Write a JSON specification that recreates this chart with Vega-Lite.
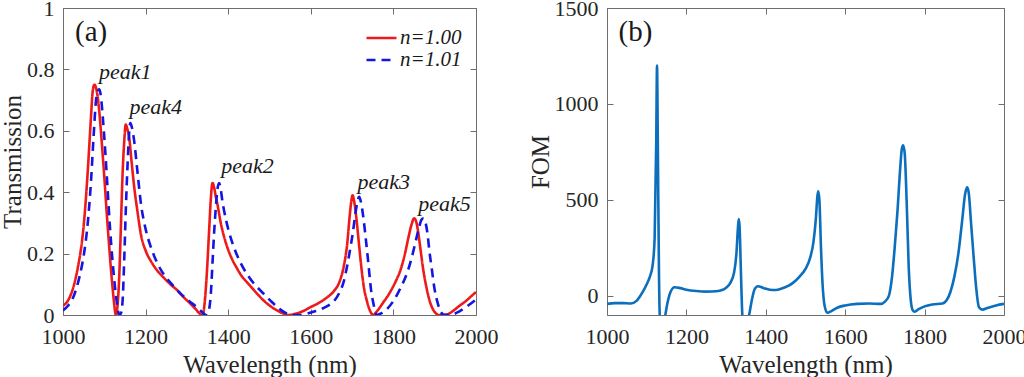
{
  "$schema": "https://vega.github.io/schema/vega-lite/v6.json",
  "padding": {"left": 0, "top": -4, "right": 2, "bottom": 0},
  "background": "white",
  "datasets": {
    "trans": [
      {"w":1000,"T":0.03,"n":"n=1.00"},{"w":1011,"T":0.045,"n":"n=1.00"},{"w":1020,"T":0.07,"n":"n=1.00"},{"w":1027,"T":0.10,"n":"n=1.00"},{"w":1036,"T":0.155,"n":"n=1.00"},{"w":1044,"T":0.22,"n":"n=1.00"},{"w":1050,"T":0.29,"n":"n=1.00"},{"w":1056,"T":0.39,"n":"n=1.00"},{"w":1060,"T":0.47,"n":"n=1.00"},{"w":1064,"T":0.56,"n":"n=1.00"},{"w":1068,"T":0.65,"n":"n=1.00"},{"w":1072,"T":0.73,"n":"n=1.00"},{"w":1076,"T":0.75,"n":"n=1.00"},{"w":1080,"T":0.74,"n":"n=1.00"},{"w":1084,"T":0.71,"n":"n=1.00"},{"w":1088,"T":0.66,"n":"n=1.00"},{"w":1094,"T":0.56,"n":"n=1.00"},{"w":1100,"T":0.45,"n":"n=1.00"},{"w":1106,"T":0.33,"n":"n=1.00"},{"w":1112,"T":0.22,"n":"n=1.00"},{"w":1116,"T":0.15,"n":"n=1.00"},{"w":1120,"T":0.09,"n":"n=1.00"},{"w":1124,"T":0.035,"n":"n=1.00"},{"w":1128,"T":0.0,"n":"n=1.00"},{"w":1132,"T":0.03,"n":"n=1.00"},{"w":1136,"T":0.12,"n":"n=1.00"},{"w":1140,"T":0.28,"n":"n=1.00"},{"w":1144,"T":0.45,"n":"n=1.00"},{"w":1148,"T":0.56,"n":"n=1.00"},{"w":1152,"T":0.62,"n":"n=1.00"},{"w":1156,"T":0.605,"n":"n=1.00"},{"w":1160,"T":0.58,"n":"n=1.00"},{"w":1166,"T":0.50,"n":"n=1.00"},{"w":1173,"T":0.41,"n":"n=1.00"},{"w":1180,"T":0.34,"n":"n=1.00"},{"w":1189,"T":0.26,"n":"n=1.00"},{"w":1200,"T":0.21,"n":"n=1.00"},{"w":1213,"T":0.175,"n":"n=1.00"},{"w":1228,"T":0.145,"n":"n=1.00"},{"w":1245,"T":0.12,"n":"n=1.00"},{"w":1260,"T":0.10,"n":"n=1.00"},{"w":1277,"T":0.08,"n":"n=1.00"},{"w":1292,"T":0.058,"n":"n=1.00"},{"w":1310,"T":0.035,"n":"n=1.00"},{"w":1322,"T":0.018,"n":"n=1.00"},{"w":1330,"T":0.006,"n":"n=1.00"},{"w":1338,"T":0.0,"n":"n=1.00"},{"w":1343,"T":0.04,"n":"n=1.00"},{"w":1348,"T":0.13,"n":"n=1.00"},{"w":1354,"T":0.28,"n":"n=1.00"},{"w":1358,"T":0.38,"n":"n=1.00"},{"w":1362,"T":0.43,"n":"n=1.00"},{"w":1366,"T":0.415,"n":"n=1.00"},{"w":1370,"T":0.385,"n":"n=1.00"},{"w":1374,"T":0.36,"n":"n=1.00"},{"w":1382,"T":0.30,"n":"n=1.00"},{"w":1390,"T":0.255,"n":"n=1.00"},{"w":1398,"T":0.22,"n":"n=1.00"},{"w":1410,"T":0.18,"n":"n=1.00"},{"w":1420,"T":0.155,"n":"n=1.00"},{"w":1431,"T":0.13,"n":"n=1.00"},{"w":1450,"T":0.10,"n":"n=1.00"},{"w":1471,"T":0.068,"n":"n=1.00"},{"w":1490,"T":0.042,"n":"n=1.00"},{"w":1512,"T":0.02,"n":"n=1.00"},{"w":1530,"T":0.007,"n":"n=1.00"},{"w":1545,"T":0.0,"n":"n=1.00"},{"w":1560,"T":0.003,"n":"n=1.00"},{"w":1580,"T":0.012,"n":"n=1.00"},{"w":1600,"T":0.026,"n":"n=1.00"},{"w":1620,"T":0.04,"n":"n=1.00"},{"w":1640,"T":0.058,"n":"n=1.00"},{"w":1656,"T":0.078,"n":"n=1.00"},{"w":1670,"T":0.11,"n":"n=1.00"},{"w":1680,"T":0.16,"n":"n=1.00"},{"w":1688,"T":0.23,"n":"n=1.00"},{"w":1694,"T":0.32,"n":"n=1.00"},{"w":1698,"T":0.37,"n":"n=1.00"},{"w":1701,"T":0.39,"n":"n=1.00"},{"w":1705,"T":0.37,"n":"n=1.00"},{"w":1710,"T":0.32,"n":"n=1.00"},{"w":1716,"T":0.24,"n":"n=1.00"},{"w":1722,"T":0.16,"n":"n=1.00"},{"w":1728,"T":0.095,"n":"n=1.00"},{"w":1736,"T":0.045,"n":"n=1.00"},{"w":1744,"T":0.012,"n":"n=1.00"},{"w":1751,"T":0.0,"n":"n=1.00"},{"w":1760,"T":0.012,"n":"n=1.00"},{"w":1775,"T":0.04,"n":"n=1.00"},{"w":1790,"T":0.07,"n":"n=1.00"},{"w":1805,"T":0.108,"n":"n=1.00"},{"w":1818,"T":0.15,"n":"n=1.00"},{"w":1828,"T":0.2,"n":"n=1.00"},{"w":1836,"T":0.25,"n":"n=1.00"},{"w":1844,"T":0.295,"n":"n=1.00"},{"w":1850,"T":0.315,"n":"n=1.00"},{"w":1855,"T":0.305,"n":"n=1.00"},{"w":1860,"T":0.27,"n":"n=1.00"},{"w":1866,"T":0.21,"n":"n=1.00"},{"w":1872,"T":0.15,"n":"n=1.00"},{"w":1880,"T":0.09,"n":"n=1.00"},{"w":1888,"T":0.045,"n":"n=1.00"},{"w":1896,"T":0.018,"n":"n=1.00"},{"w":1904,"T":0.004,"n":"n=1.00"},{"w":1910,"T":0.0,"n":"n=1.00"},{"w":1930,"T":0.002,"n":"n=1.00"},{"w":1945,"T":0.014,"n":"n=1.00"},{"w":1960,"T":0.03,"n":"n=1.00"},{"w":1975,"T":0.045,"n":"n=1.00"},{"w":1990,"T":0.063,"n":"n=1.00"},{"w":2000,"T":0.075,"n":"n=1.00"},
      {"w":1000,"T":0.015,"n":"n=1.01"},{"w":1012,"T":0.03,"n":"n=1.01"},{"w":1027,"T":0.065,"n":"n=1.01"},{"w":1040,"T":0.125,"n":"n=1.01"},{"w":1052,"T":0.21,"n":"n=1.01"},{"w":1060,"T":0.30,"n":"n=1.01"},{"w":1068,"T":0.44,"n":"n=1.01"},{"w":1074,"T":0.58,"n":"n=1.01"},{"w":1080,"T":0.70,"n":"n=1.01"},{"w":1084,"T":0.73,"n":"n=1.01"},{"w":1088,"T":0.735,"n":"n=1.01"},{"w":1092,"T":0.71,"n":"n=1.01"},{"w":1096,"T":0.65,"n":"n=1.01"},{"w":1102,"T":0.54,"n":"n=1.01"},{"w":1108,"T":0.41,"n":"n=1.01"},{"w":1114,"T":0.28,"n":"n=1.01"},{"w":1120,"T":0.175,"n":"n=1.01"},{"w":1126,"T":0.09,"n":"n=1.01"},{"w":1131,"T":0.035,"n":"n=1.01"},{"w":1136,"T":0.0,"n":"n=1.01"},{"w":1140,"T":0.005,"n":"n=1.01"},{"w":1144,"T":0.04,"n":"n=1.01"},{"w":1148,"T":0.17,"n":"n=1.01"},{"w":1152,"T":0.34,"n":"n=1.01"},{"w":1156,"T":0.48,"n":"n=1.01"},{"w":1160,"T":0.59,"n":"n=1.01"},{"w":1163,"T":0.625,"n":"n=1.01"},{"w":1167,"T":0.61,"n":"n=1.01"},{"w":1173,"T":0.56,"n":"n=1.01"},{"w":1180,"T":0.47,"n":"n=1.01"},{"w":1189,"T":0.36,"n":"n=1.01"},{"w":1200,"T":0.28,"n":"n=1.01"},{"w":1213,"T":0.22,"n":"n=1.01"},{"w":1228,"T":0.17,"n":"n=1.01"},{"w":1245,"T":0.13,"n":"n=1.01"},{"w":1265,"T":0.098,"n":"n=1.01"},{"w":1286,"T":0.068,"n":"n=1.01"},{"w":1306,"T":0.045,"n":"n=1.01"},{"w":1326,"T":0.023,"n":"n=1.01"},{"w":1338,"T":0.008,"n":"n=1.01"},{"w":1346,"T":0.0,"n":"n=1.01"},{"w":1350,"T":0.005,"n":"n=1.01"},{"w":1354,"T":0.02,"n":"n=1.01"},{"w":1358,"T":0.07,"n":"n=1.01"},{"w":1362,"T":0.17,"n":"n=1.01"},{"w":1366,"T":0.27,"n":"n=1.01"},{"w":1370,"T":0.35,"n":"n=1.01"},{"w":1374,"T":0.41,"n":"n=1.01"},{"w":1378,"T":0.43,"n":"n=1.01"},{"w":1382,"T":0.41,"n":"n=1.01"},{"w":1386,"T":0.37,"n":"n=1.01"},{"w":1390,"T":0.34,"n":"n=1.01"},{"w":1400,"T":0.28,"n":"n=1.01"},{"w":1414,"T":0.22,"n":"n=1.01"},{"w":1430,"T":0.17,"n":"n=1.01"},{"w":1447,"T":0.13,"n":"n=1.01"},{"w":1467,"T":0.095,"n":"n=1.01"},{"w":1487,"T":0.068,"n":"n=1.01"},{"w":1505,"T":0.043,"n":"n=1.01"},{"w":1524,"T":0.02,"n":"n=1.01"},{"w":1540,"T":0.006,"n":"n=1.01"},{"w":1555,"T":0.0,"n":"n=1.01"},{"w":1575,"T":0.0,"n":"n=1.01"},{"w":1590,"T":0.004,"n":"n=1.01"},{"w":1610,"T":0.012,"n":"n=1.01"},{"w":1630,"T":0.022,"n":"n=1.01"},{"w":1645,"T":0.033,"n":"n=1.01"},{"w":1656,"T":0.045,"n":"n=1.01"},{"w":1670,"T":0.075,"n":"n=1.01"},{"w":1680,"T":0.11,"n":"n=1.01"},{"w":1688,"T":0.16,"n":"n=1.01"},{"w":1696,"T":0.22,"n":"n=1.01"},{"w":1702,"T":0.27,"n":"n=1.01"},{"w":1708,"T":0.33,"n":"n=1.01"},{"w":1713,"T":0.37,"n":"n=1.01"},{"w":1717,"T":0.385,"n":"n=1.01"},{"w":1721,"T":0.37,"n":"n=1.01"},{"w":1727,"T":0.32,"n":"n=1.01"},{"w":1733,"T":0.25,"n":"n=1.01"},{"w":1740,"T":0.16,"n":"n=1.01"},{"w":1746,"T":0.08,"n":"n=1.01"},{"w":1752,"T":0.035,"n":"n=1.01"},{"w":1756,"T":0.01,"n":"n=1.01"},{"w":1760,"T":0.0,"n":"n=1.01"},{"w":1770,"T":0.005,"n":"n=1.01"},{"w":1785,"T":0.02,"n":"n=1.01"},{"w":1802,"T":0.05,"n":"n=1.01"},{"w":1818,"T":0.09,"n":"n=1.01"},{"w":1834,"T":0.14,"n":"n=1.01"},{"w":1845,"T":0.19,"n":"n=1.01"},{"w":1854,"T":0.24,"n":"n=1.01"},{"w":1862,"T":0.285,"n":"n=1.01"},{"w":1868,"T":0.31,"n":"n=1.01"},{"w":1873,"T":0.315,"n":"n=1.01"},{"w":1878,"T":0.3,"n":"n=1.01"},{"w":1883,"T":0.26,"n":"n=1.01"},{"w":1887,"T":0.21,"n":"n=1.01"},{"w":1893,"T":0.15,"n":"n=1.01"},{"w":1899,"T":0.09,"n":"n=1.01"},{"w":1906,"T":0.045,"n":"n=1.01"},{"w":1915,"T":0.01,"n":"n=1.01"},{"w":1923,"T":0.0,"n":"n=1.01"},{"w":1945,"T":0.003,"n":"n=1.01"},{"w":1960,"T":0.012,"n":"n=1.01"},{"w":1975,"T":0.025,"n":"n=1.01"},{"w":1990,"T":0.04,"n":"n=1.01"},{"w":2000,"T":0.05,"n":"n=1.01"}
    ],
    "peaks": [
      {"w":1087,"T":0.77,"label":"peak1"},
      {"w":1161,"T":0.654,"label":"peak4"},
      {"w":1383,"T":0.464,"label":"peak2"},
      {"w":1713,"T":0.409,"label":"peak3"},
      {"w":1860,"T":0.339,"label":"peak5"}
    ],
    "fom": [
      {"w":1000,"F":-42},{"w":1020,"F":-38},{"w":1040,"F":-38},{"w":1060,"F":-40},{"w":1075,"F":-25},{"w":1090,"F":20},{"w":1100,"F":60},{"w":1108,"F":100},{"w":1115,"F":160},{"w":1120,"F":300},{"w":1124,"F":800},{"w":1126,"F":1200},{"w":1128,"F":800},{"w":1131,"F":100},{"w":1134,"F":-150},{"w":1140,"F":-170},{"w":1146,"F":-110},{"w":1152,"F":-40},{"w":1160,"F":20},{"w":1170,"F":45},{"w":1185,"F":40},{"w":1200,"F":32},{"w":1225,"F":25},{"w":1250,"F":22},{"w":1275,"F":24},{"w":1290,"F":30},{"w":1300,"F":42},{"w":1310,"F":65},{"w":1320,"F":120},{"w":1326,"F":220},{"w":1330,"F":360},{"w":1332,"F":400},{"w":1334,"F":360},{"w":1337,"F":150},{"w":1340,"F":-60},{"w":1343,"F":-150},{"w":1350,"F":-170},{"w":1358,"F":-100},{"w":1365,"F":-20},{"w":1372,"F":35},{"w":1380,"F":50},{"w":1395,"F":40},{"w":1410,"F":32},{"w":1425,"F":30},{"w":1440,"F":38},{"w":1455,"F":50},{"w":1470,"F":70},{"w":1485,"F":100},{"w":1500,"F":140},{"w":1512,"F":200},{"w":1520,"F":280},{"w":1526,"F":400},{"w":1530,"F":520},{"w":1532,"F":545},{"w":1535,"F":500},{"w":1539,"F":250},{"w":1543,"F":60},{"w":1548,"F":-50},{"w":1555,"F":-88},{"w":1565,"F":-80},{"w":1580,"F":-62},{"w":1600,"F":-50},{"w":1630,"F":-42},{"w":1660,"F":-40},{"w":1690,"F":-42},{"w":1700,"F":-30},{"w":1710,"F":0},{"w":1718,"F":100},{"w":1725,"F":260},{"w":1732,"F":450},{"w":1738,"F":650},{"w":1743,"F":770},{"w":1746,"F":785},{"w":1750,"F":740},{"w":1755,"F":480},{"w":1760,"F":150},{"w":1765,"F":-20},{"w":1770,"F":-75},{"w":1775,"F":-83},{"w":1785,"F":-70},{"w":1800,"F":-55},{"w":1820,"F":-45},{"w":1845,"F":-40},{"w":1855,"F":-25},{"w":1865,"F":20},{"w":1875,"F":100},{"w":1885,"F":220},{"w":1895,"F":400},{"w":1902,"F":530},{"w":1907,"F":565},{"w":1911,"F":540},{"w":1917,"F":380},{"w":1924,"F":190},{"w":1930,"F":40},{"w":1937,"F":-60},{"w":1945,"F":-72},{"w":1960,"F":-62},{"w":1980,"F":-50},{"w":2000,"F":-42}
    ]
  },
  "spacing": 28,
  "hconcat": [
    {
      "width": 413,
      "height": 307,
      "layer": [
        {
          "data": {"name": "trans"},
          "mark": {"type": "line", "interpolate": "monotone", "strokeWidth": 2.6, "clip": true},
          "encoding": {
            "x": {"field": "w", "type": "quantitative", "scale": {"domain": [1000, 2000], "nice": false, "zero": false},
                  "axis": {"title": "Wavelength (nm)", "values": [1000,1200,1400,1600,1800,2000], "format": "d"}},
            "y": {"field": "T", "type": "quantitative", "scale": {"domain": [0, 1], "nice": false},
                  "axis": {"title": "Transmission", "values": [0,0.2,0.4,0.6,0.8,1], "format": "~g"}},
            "color": {"field": "n", "type": "nominal", "scale": {"domain": ["n=1.00","n=1.01"], "range": ["#ee1a1a","#1515e0"]},
                      "legend": {"orient": "none", "legendX": 302, "legendY": 20, "title": null}},
            "strokeDash": {"field": "n", "type": "nominal", "scale": {"domain": ["n=1.00","n=1.01"], "range": [[1,0],[9,6]]},
                      "legend": {"orient": "none", "legendX": 302, "legendY": 20, "title": null}}
          }
        },
        {
          "data": {"name": "peaks"},
          "mark": {"type": "text", "font": "Liberation Serif", "fontStyle": "italic", "fontSize": 22, "align": "left", "baseline": "alphabetic", "color": "#1a1a1a"},
          "encoding": {
            "x": {"field": "w", "type": "quantitative", "scale": {"domain": [1000, 2000], "nice": false, "zero": false},
                  "axis": {"orient": "top", "labels": false, "title": null, "values": [1000,1200,1400,1600,1800,2000]}},
            "y": {"field": "T", "type": "quantitative", "scale": {"domain": [0, 1], "nice": false},
                  "axis": {"orient": "right", "labels": false, "title": null, "values": [0,0.2,0.4,0.6,0.8,1]}},
            "text": {"field": "label"}
          }
        },
        {
          "data": {"values": [{"w": 1029, "T": 0.892, "label": "(a)"}]},
          "mark": {"type": "text", "font": "Liberation Serif", "fontSize": 29, "align": "left", "baseline": "alphabetic", "color": "#1a1a1a"},
          "encoding": {
            "x": {"field": "w", "type": "quantitative", "scale": {"domain": [1000, 2000], "nice": false, "zero": false}, "axis": null},
            "y": {"field": "T", "type": "quantitative", "scale": {"domain": [0, 1], "nice": false}, "axis": null},
            "text": {"field": "label"}
          }
        }
      ],
      "resolve": {"axis": {"x": "independent", "y": "independent"}}
    },
    {
      "width": 397,
      "height": 307,
      "layer": [
        {
          "data": {"name": "fom"},
          "mark": {"type": "line", "interpolate": "monotone", "strokeWidth": 2.6, "color": "#0b6fbd", "clip": true},
          "encoding": {
            "x": {"field": "w", "type": "quantitative", "scale": {"domain": [1000, 2000], "nice": false, "zero": false},
                  "axis": {"title": "Wavelength (nm)", "values": [1000,1200,1400,1600,1800,2000], "format": "d"}},
            "y": {"field": "F", "type": "quantitative", "scale": {"domain": [-100, 1500], "nice": false, "zero": false},
                  "axis": {"title": "FOM", "values": [0,500,1000,1500], "format": "d"}}
          }
        },
        {
          "data": {"values": [{"w": 1029, "F": 1329, "label": "(b)"}]},
          "mark": {"type": "text", "font": "Liberation Serif", "fontSize": 29, "align": "left", "baseline": "alphabetic", "color": "#1a1a1a"},
          "encoding": {
            "x": {"field": "w", "type": "quantitative", "scale": {"domain": [1000, 2000], "nice": false, "zero": false},
                  "axis": {"orient": "top", "labels": false, "title": null, "values": [1000,1200,1400,1600,1800,2000]}},
            "y": {"field": "F", "type": "quantitative", "scale": {"domain": [-100, 1500], "nice": false, "zero": false},
                  "axis": {"orient": "right", "labels": false, "title": null, "values": [0,500,1000,1500]}},
            "text": {"field": "label"}
          }
        }
      ],
      "resolve": {"axis": {"x": "independent", "y": "independent"}}
    }
  ],
  "config": {
    "view": {"stroke": "#6e6e6e", "strokeWidth": 1},
    "axis": {
      "domain": false,
      "grid": false,
      "ticks": true,
      "tickSize": -6,
      "tickColor": "#6e6e6e",
      "tickWidth": 1,
      "labelFlush": false,
      "labelOverlap": false,
      "labelFont": "Liberation Serif",
      "labelFontSize": 22,
      "labelColor": "#262626",
      "titleFont": "Liberation Serif",
      "titleFontSize": 25,
      "titleFontWeight": "normal",
      "titleColor": "#262626"
    },
    "axisX": {"titlePadding": 5, "labelPadding": 17},
    "axisY": {"titlePadding": 1, "labelPadding": 15},
    "legend": {
      "symbolType": "stroke",
      "symbolSize": 900,
      "symbolStrokeWidth": 2.6,
      "labelFont": "Liberation Serif",
      "labelFontStyle": "italic",
      "labelFontSize": 21,
      "labelColor": "#1a1a1a",
      "labelOffset": 2,
      "clipHeight": 20,
      "rowPadding": 1,
      "padding": 0
    }
  }
}
